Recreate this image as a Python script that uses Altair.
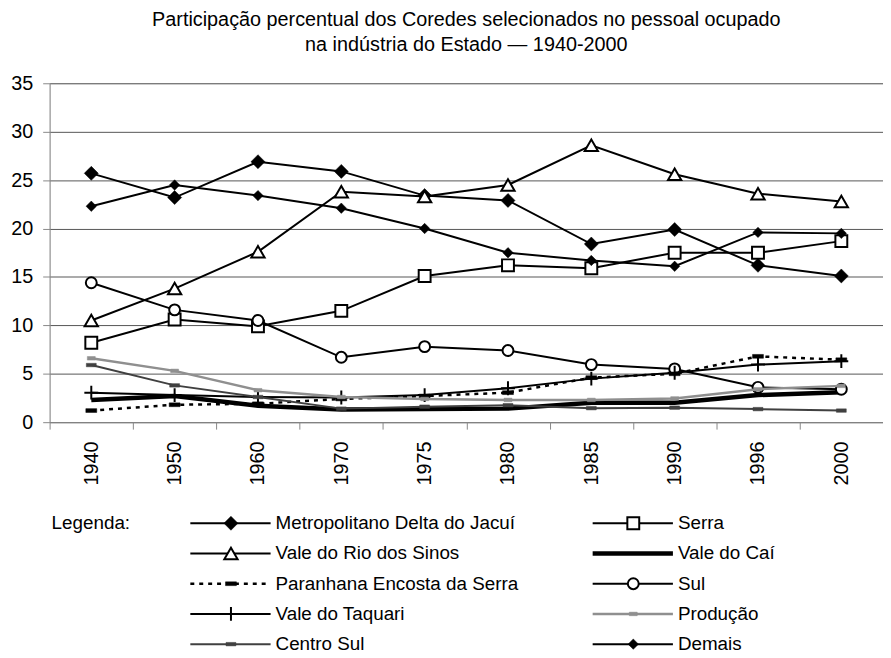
import altair as alt
import pandas as pd

years = ["1940", "1950", "1960", "1970", "1975", "1980", "1985", "1990", "1996", "2000"]

series_names = [
    "Metropolitano Delta do Jacuí", "Serra", "Vale do Rio dos Sinos", "Vale do Caí",
    "Paranhana Encosta da Serra", "Sul", "Vale do Taquari", "Produção", "Centro Sul", "Demais",
]

metropolitano = [25.7, 23.2, 26.9, 25.9, 23.4, 22.9, 18.4, 19.9, 16.2, 15.1]
serra = [8.2, 10.6, 9.9, 11.5, 15.1, 16.2, 15.9, 17.5, 17.5, 18.7]
sinos = [10.5, 13.8, 17.6, 23.8, 23.3, 24.5, 28.6, 25.6, 23.6, 22.8]
cai = [2.3, 2.7, 1.7, 1.3, 1.35, 1.4, 2.0, 2.0, 2.8, 3.1]
paranhana = [1.2, 1.8, 1.9, 2.4, 2.7, 3.05, 4.6, 5.0, 6.8, 6.45]
sul = [14.4, 11.6, 10.5, 6.7, 7.8, 7.4, 5.95, 5.5, 3.6, 3.4]
taquari = [3.05, 2.8, 2.6, 2.55, 2.8, 3.5, 4.5, 5.1, 5.95, 6.3]
producao = [6.6, 5.3, 3.3, 2.6, 2.4, 2.3, 2.3, 2.45, 3.4, 3.75]
centro_sul = [5.9, 3.8, 2.6, 1.4, 1.6, 1.75, 1.45, 1.5, 1.35, 1.2]
demais = [22.3, 24.5, 23.4, 22.1, 20.0, 17.5, 16.7, 16.1, 19.6, 19.5]

series_values = [metropolitano, serra, sinos, cai, paranhana, sul, taquari, producao, centro_sul, demais]

title_lines = [
    "Participação percentual dos Coredes selecionados no pessoal ocupado",
    "na indústria do Estado — 1940-2000",
]

FONT = "Liberation Sans"
RECT = "M-1,-0.35L1,-0.35L1,0.35L-1,0.35Z"
RECT_SMALL = "M-1,-0.45L1,-0.45L1,0.45L-1,0.45Z"
PLUS = "M-1,0L1,0M0,-1L0,1"

styles = {
    "Metropolitano Delta do Jacuí": dict(color="black", width=2, shape="diamond", size=200, fill="black", mstroke="black", mwidth=0.5),
    "Serra": dict(color="black", width=2, shape="square", size=144, fill="white", mstroke="black", mwidth=2),
    "Vale do Rio dos Sinos": dict(color="black", width=2, shape="triangle-up", size=180, fill="white", mstroke="black", mwidth=2),
    "Vale do Caí": dict(color="black", width=4.5, shape=None),
    "Paranhana Encosta da Serra": dict(color="black", width=2.5, dash=[4, 5], shape=RECT, size=121, fill="black", mstroke="black", mwidth=0.5),
    "Sul": dict(color="black", width=2, shape="circle", size=121, fill="white", mstroke="black", mwidth=2),
    "Vale do Taquari": dict(color="black", width=2, shape=PLUS, size=196, fill="transparent", mstroke="black", mwidth=2),
    "Produção": dict(color="#8f8f8f", width=2.5, shape=RECT_SMALL, size=64, fill="#8f8f8f", mstroke="#8f8f8f", mwidth=0.5),
    "Centro Sul": dict(color="#404040", width=2, shape=RECT, size=100, fill="#404040", mstroke="#404040", mwidth=0.5),
    "Demais": dict(color="black", width=2, shape="diamond", size=110, fill="black", mstroke="black", mwidth=0.5),
}

rows = []
for name, vals in zip(series_names, series_values):
    for yr, v in zip(years, vals):
        rows.append({"serie": name, "ano": yr, "valor": v})
df = pd.DataFrame(rows)

leg = pd.DataFrame({
    "serie": series_names,
    "col": [i % 2 for i in range(len(series_names))],
    "row": [i // 2 for i in range(len(series_names))],
})

X = alt.X(
    "ano:O", sort=years, bandPosition=0.5,
    scale=alt.Scale(type="band", paddingInner=0, paddingOuter=0),
    axis=alt.Axis(title=None, labelAngle=-90, tickBand="extent", grid=False,
                  labelFontSize=20, labelColor="black", labelFont=FONT,
                  tickSize=7, tickColor="#888888", domainColor="#888888",
                  labelPadding=12),
)
Y = alt.Y(
    "valor:Q",
    scale=alt.Scale(domain=[0, 35], nice=False, zero=True),
    axis=alt.Axis(title=None, values=[0, 5, 10, 15, 20, 25, 30, 35], grid=True,
                  gridColor="#555555", gridWidth=1, tickSize=7, tickColor="#888888",
                  domainColor="#888888", labelFontSize=20, labelColor="black",
                  labelFont=FONT, labelPadding=10),
)


def line_props(st):
    d = dict(color=st["color"], strokeWidth=st["width"])
    if st.get("dash"):
        d["strokeDash"] = st["dash"]
    return d


def point_props(st):
    return dict(shape=st["shape"], size=st["size"], fill=st["fill"], stroke=st["mstroke"],
                strokeWidth=st["mwidth"], filled=True, opacity=1)


main_layers = []
for name in series_names:
    st = styles[name]
    base = alt.Chart(df).transform_filter(alt.datum.serie == name)
    main_layers.append(base.mark_line(**line_props(st)).encode(x=X, y=Y))
    if st["shape"]:
        main_layers.append(base.mark_point(**point_props(st)).encode(x=X, y=Y))

main = alt.layer(*main_layers)

LX = alt.X("col:Q", scale=alt.Scale(domain=[0, 1], range=[142, 548], nice=False, zero=False), axis=None)
LY = alt.Y("row:Q", scale=alt.Scale(domain=[0, 4], range=[444, 566], nice=False, zero=False), axis=None)

legend_layers = []
for name in series_names:
    st = styles[name]
    base = alt.Chart(leg).transform_filter(alt.datum.serie == name)
    legend_layers.append(
        base.mark_rule(x2Offset=81, **line_props(st)).encode(x=LX, x2="col:Q", y=LY)
    )
    if st["shape"]:
        legend_layers.append(
            base.mark_point(xOffset=41, **point_props(st)).encode(x=LX, y=LY)
        )
legend_layers.append(
    alt.Chart(leg).mark_text(align="left", baseline="middle", dx=86, fontSize=19,
                             font=FONT, color="black").encode(x=LX, y=LY, text="serie:N")
)
legend_layers.append(
    alt.Chart(leg).transform_filter(alt.datum.row == 0).transform_filter(alt.datum.col == 0)
    .mark_text(align="left", baseline="middle", fontSize=19, font=FONT, color="black")
    .encode(x=alt.value(2), y=LY, text=alt.value("Legenda:"))
)
legend = alt.layer(*legend_layers)

chart = (
    alt.layer(main, legend)
    .resolve_scale(x="independent", y="independent")
    .properties(
        width=841, height=342,
        title=alt.TitleParams(text=title_lines, fontSize=20, font=FONT, fontWeight="normal",
                              color="black", anchor="middle", offset=19, lineHeight=25),
        autosize=alt.AutoSizeParams(type="none"),
        padding={"left": 42, "top": 73, "right": 0, "bottom": 235},
    )
    .configure_view(stroke=None)
    .configure(font=FONT)
)

chart.save("out.html", embed_options={"renderer": "svg", "actions": False})
